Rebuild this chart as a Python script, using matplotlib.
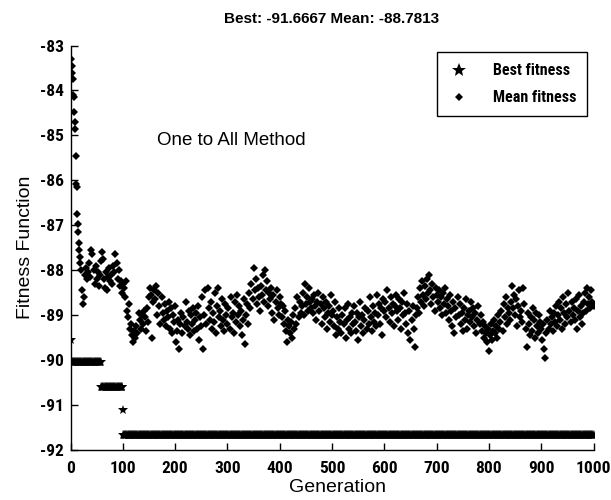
import numpy as np
import matplotlib
matplotlib.use("Agg")
import matplotlib.pyplot as plt

plt.rcParams['axes.unicode_minus'] = False

# ---------------- data ----------------
gen_early = list(range(1, 21))
mean_early = [-83.30, -83.45, -83.62, -83.75, -84.10, -84.15, -84.48, -84.70, -84.85, -85.45,
              -86.08, -86.15, -86.75, -86.98, -87.15, -87.40, -87.55, -87.70, -87.85, -88.00]

mean_rest = [
    -88.45, -88.75, -88.60, -88.10, -87.95, -88.20, -88.05, -87.85, -88.15, -87.55,
    -87.65, -88.00, -88.30, -87.90, -88.20, -88.05, -88.35, -88.10, -87.80, -87.60,
    -87.75, -88.20, -88.40, -88.05, -88.45, -88.15, -87.95, -88.25, -88.10, -88.30,
    -87.90, -88.05, -87.65, -87.85, -88.20, -88.00, -88.35, -88.25, -88.50, -88.30,
    -88.40, -88.60, -88.25, -88.90, -89.05, -88.75, -89.30, -89.20, -89.45, -89.60,
    -89.35, -89.50, -89.25, -89.40, -88.95, -89.10, -89.30, -89.00, -89.20, -88.90,
    -89.05, -89.35, -88.85, -89.15, -88.60, -88.40, -88.55, -89.50, -88.70, -88.45,
    -88.65, -88.35, -89.00, -88.50, -88.80, -89.20, -88.60, -88.95, -89.10, -88.75,
    -89.25, -88.90, -89.05, -88.70, -89.30, -88.85, -89.40, -89.00, -89.15, -88.80,
    -89.60, -89.35, -89.10, -89.75, -89.20, -88.95, -89.40, -89.05, -89.25, -88.70,
    -89.15, -89.30, -88.90, -89.45, -89.00, -89.20, -88.85, -89.35, -89.10, -88.95,
    -89.30, -88.80, -89.55, -89.05, -89.25, -88.60, -89.75, -89.00, -88.45, -89.20,
    -88.40, -88.85, -89.10, -88.70, -89.30, -88.95, -89.15, -88.50, -89.40, -88.80,
    -88.40, -89.05, -88.90, -89.25, -88.65, -89.10, -89.35, -88.75, -89.00, -89.20,
    -88.85, -89.30, -88.60, -89.05, -88.95, -89.40, -88.70, -89.15, -88.55, -89.00,
    -88.80, -89.25, -88.90, -89.45, -89.10, -88.65, -89.65, -89.00, -88.75, -89.20,
    -88.50, -88.85, -88.30, -88.65, -87.95, -88.45, -88.20, -88.75, -88.40, -88.60,
    -88.90, -88.35, -88.55, -88.10, -88.70, -88.00, -88.45, -88.25, -88.80, -88.50,
    -88.65, -88.40, -88.95, -88.55, -89.10, -88.70, -88.45, -88.85, -89.00, -88.60,
    -88.75, -89.05, -88.80, -89.20, -88.90, -89.35, -89.60, -89.10, -89.25, -89.40,
    -89.15, -89.50, -89.00, -89.30, -88.85, -89.20, -88.60, -89.05, -88.70, -88.95,
    -88.80, -88.50, -89.00, -88.30, -88.75, -88.60, -88.90, -88.40, -88.70, -88.85,
    -88.65, -88.95, -88.55, -88.80, -89.10, -88.70, -88.50, -88.90, -88.75, -89.20,
    -88.60, -88.85, -89.05, -88.70, -89.30, -88.95, -88.80, -89.15, -88.55, -89.00,
    -88.90, -89.25, -88.70, -89.45, -89.05, -89.30, -88.85, -89.15, -89.40, -89.00,
    -89.20, -88.85, -89.50, -89.10, -88.75, -89.30, -89.05, -89.40, -88.95, -89.20,
    -88.80, -89.15, -89.35, -88.95, -89.55, -89.05, -88.70, -89.25, -89.00, -89.40,
    -89.10, -88.85, -89.30, -88.90, -89.20, -88.60, -89.05, -89.35, -88.80, -89.15,
    -88.95, -89.25, -88.55, -89.00, -88.75, -89.20, -88.85, -89.45, -88.65, -88.90,
    -88.70, -89.05, -88.45, -88.85, -89.15, -88.60, -88.95, -88.75, -89.25, -88.80,
    -88.55, -88.90, -89.10, -88.65, -88.85, -89.30, -88.70, -89.00, -88.50, -88.95,
    -89.20, -88.75, -89.40, -88.90, -89.55, -89.10, -88.80, -89.30, -89.70, -89.00,
    -88.85, -88.60, -88.95, -88.40, -88.70, -88.25, -88.55, -88.80, -88.35, -88.65,
    -88.20, -88.50, -88.10, -88.45, -88.75, -88.30, -88.60, -88.90, -88.40, -88.55,
    -88.70, -88.45, -88.85, -88.60, -89.00, -88.50, -88.75, -88.40, -88.95, -88.65,
    -88.80, -89.10, -88.55, -88.90, -89.25, -88.70, -89.40, -88.85, -89.05, -88.60,
    -89.00, -88.75, -89.20, -88.95, -89.35, -88.85, -89.10, -88.65, -89.30, -89.00,
    -88.90, -89.15, -88.70, -89.05, -88.85, -89.25, -88.95, -89.40, -89.10, -88.80,
    -89.20, -89.00, -89.35, -89.15, -89.50, -89.25, -89.40, -89.60, -89.30, -89.80,
    -89.45, -89.20, -89.55, -89.35, -89.10, -89.40, -89.25, -89.50, -89.00, -89.30,
    -89.15, -88.90, -89.35, -88.75, -89.05, -88.60, -89.20, -88.85, -88.95, -89.10,
    -88.70, -88.35, -88.85, -88.55, -89.00, -88.65, -89.25, -88.80, -88.45, -89.05,
    -88.90, -89.15, -88.40, -88.75, -89.30, -89.70, -88.95, -89.20, -89.45, -89.05,
    -89.35, -88.85, -89.10, -89.50, -88.95, -89.25, -89.40, -89.00, -89.15, -89.30,
    -89.55, -89.20, -89.75, -89.95, -89.40, -89.10, -89.30, -88.90, -89.20, -89.05,
    -89.35, -88.95, -89.15, -88.80, -89.25, -89.00, -88.70, -89.10, -88.85, -89.30,
    -88.60, -88.95, -89.20, -88.75, -89.05, -88.50, -88.90, -89.15, -88.70, -89.00,
    -88.85, -89.10, -88.65, -89.30, -88.90, -88.55, -89.05, -88.80, -89.20, -88.95,
    -88.70, -88.50, -88.90, -88.40, -88.75, -88.60, -88.85, -88.45, -88.70, -88.80,
]
gen_rest = list(range(22, 22 + 2 * len(mean_rest), 2))

# best fitness: (first generation, last generation, value) segments
best_segments = [(1, 1, -89.55), (2, 58, -90.05), (59, 99, -90.60),
                 (100, 100, -91.12), (101, 1000, -91.6667)]

xticks = [0, 100, 200, 300, 400, 500, 600, 700, 800, 900, 1000]
yticks = [-92, -91, -90, -89, -88, -87, -86, -85, -84, -83]

title_text = "Best: -91.6667 Mean: -88.7813"
annot_text = "One to All Method"

# ---------------- figure ----------------
gen_best = []
best_vals = []
for g0, g1, v in best_segments:
    for g in range(g0, g1 + 1):
        gen_best.append(g)
        best_vals.append(v)

narrow = ['Liberation Sans Narrow', 'Roboto Condensed', 'DejaVu Sans']
sans = ['Liberation Sans', 'DejaVu Sans']

fig = plt.figure(figsize=(6.11, 5.0), dpi=100)
ax = fig.add_axes([0.1154, 0.100, 0.856, 0.809])

ax.plot(gen_best, best_vals, linestyle='none', marker='*', markersize=7,
        color='black', markeredgewidth=0, label='Best fitness')
ax.plot(gen_early + gen_rest, mean_early + mean_rest, linestyle='none', marker='D',
        markersize=4.0, color='black', markeredgewidth=0, label='Mean fitness')

ax.set_xlim(0, 1000)
ax.set_ylim(-92, -83)
ax.set_xticks(xticks)
ax.set_yticks(yticks)
ax.set_xticklabels([str(t) for t in xticks], family=narrow, fontweight='bold', fontsize=12.5)
ax.set_yticklabels([str(t) for t in yticks], family=narrow, fontweight='bold', fontsize=12.5)
ax.tick_params(direction='in', length=5, width=1)
ax.tick_params(axis='x', pad=8)
ax.tick_params(axis='y', pad=5)

for s in ['top', 'right']:
    ax.spines[s].set_visible(False)
for s in ['left', 'bottom']:
    ax.spines[s].set_linewidth(1.0)

ax.set_xlabel('Generation', family=sans, fontsize=14)
ax.set_ylabel('Fitness Function', family=sans, fontsize=14, labelpad=4)
ax.xaxis.set_label_coords(0.51, -0.072)

ax.text(165, -85.12, annot_text, family=sans, fontsize=13.5, va='center', ha='left')

fig.text(0.543, 0.962, title_text, family=sans, fontweight='bold', fontsize=11,
         ha='center', va='center')

leg = ax.legend(loc='upper right', bbox_to_anchor=(0.988, 0.984), frameon=True,
                fancybox=False, edgecolor='black', framealpha=1,
                prop={'family': narrow, 'weight': 'bold', 'size': 11.5},
                handlelength=1.4, handletextpad=1.4, borderpad=0.7, labelspacing=0.75,
                borderaxespad=0)
leg.get_frame().set_linewidth(1.0)
leg.legend_handles[0].set_markersize(10)
leg.legend_handles[1].set_markersize(3.6)

fig.savefig('out.png', dpi=100, facecolor='white')
